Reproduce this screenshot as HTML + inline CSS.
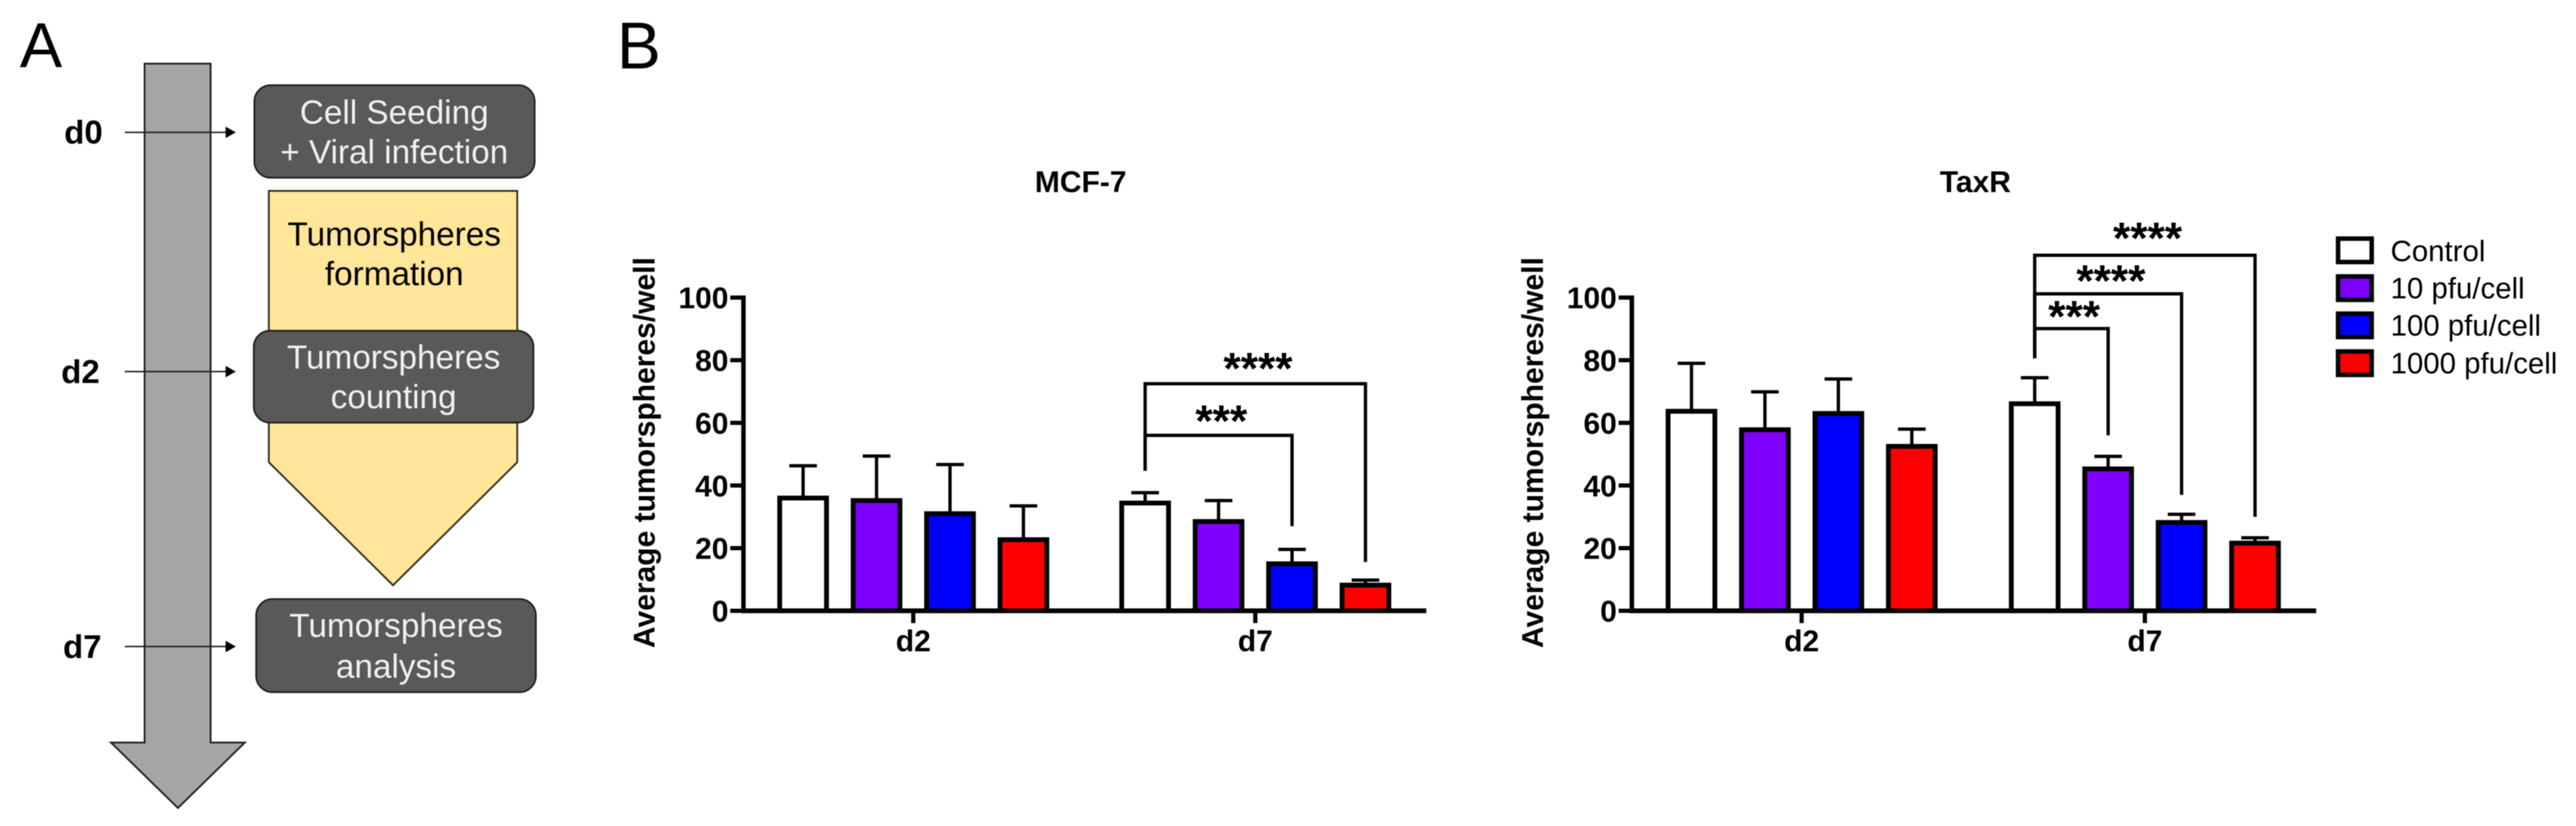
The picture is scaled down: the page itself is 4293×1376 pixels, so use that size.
<!DOCTYPE html>
<html lang="en">
<head>
<meta charset="utf-8">
<title>Tumorspheres experiment timeline and results</title>
<style>
html,body{margin:0;padding:0;background:#fff;width:4293px;height:1376px;overflow:hidden}
svg{display:block;font-family:"Liberation Sans",Arial,sans-serif;filter:blur(0.9px)}
.box{fill:#595959;stroke:#222;stroke-width:3}
.lt{fill:#f0f0f0;font-size:55.5px;text-anchor:middle}
.dk{fill:#000;font-size:55.5px;text-anchor:middle}
.day{fill:#000;font-size:55px;font-weight:bold}
.tl{stroke:#222;stroke-width:2.5}
.ah{fill:#000}
.leg{fill:#000;font-size:49px}
.sw{stroke:#000;stroke-width:7.5}
</style>
</head>
<body>
<svg id="figure" xmlns="http://www.w3.org/2000/svg" width="4293" height="1376" viewBox="0 0 4293 1376">
  <rect x="0" y="0" width="4293" height="1376" fill="#fff"/>
  <text x="33" y="112" font-size="106">A</text>
  <text x="1028" y="114" font-size="110">B</text>

  <polygon points="241,106 351,106 351,1237 408,1237 296.5,1346 185,1237 241,1237" fill="#a5a5a5" stroke="#222" stroke-width="3"/>

  <text class="day" x="107" y="239">d0</text>
  <text class="day" x="102" y="638">d2</text>
  <text class="day" x="105" y="1096">d7</text>

  <line class="tl" x1="208" y1="220.5" x2="380" y2="220.5"/>
  <polygon class="ah" points="376,211 393,220.5 376,230"/>
  <line class="tl" x1="208" y1="619" x2="380" y2="619"/>
  <polygon class="ah" points="376,609.5 393,619 376,628.5"/>
  <line class="tl" x1="208" y1="1077" x2="380" y2="1077"/>
  <polygon class="ah" points="376,1067.5 393,1077 376,1086.5"/>

  <polygon points="448,318 862,318 862,770 655,975 448,770" fill="#ffe699" stroke="#332f1c" stroke-width="3"/>
  <text class="dk" x="657" y="409">Tumorspheres</text>
  <text class="dk" x="657" y="475">formation</text>

  <rect class="box" x="424" y="142" width="467" height="154" rx="27" ry="27"/>
  <text class="lt" x="657" y="206">Cell Seeding</text>
  <text class="lt" x="657" y="272">+ Viral infection</text>

  <rect class="box" x="423" y="551" width="466" height="153" rx="27" ry="27"/>
  <text class="lt" x="656" y="614">Tumorspheres</text>
  <text class="lt" x="656" y="680">counting</text>

  <rect class="box" x="427" y="998" width="466" height="155" rx="27" ry="27"/>
  <text class="lt" x="660" y="1061">Tumorspheres</text>
  <text class="lt" x="660" y="1129">analysis</text>

  <g id="chart-mcf7"></g>
  <g id="chart-taxr"></g>

  <g>
    <rect class="sw" x="3896.5" y="397.5" width="56" height="39" fill="#fff"/>
    <text class="leg" x="3984" y="435">Control</text>
    <rect class="sw" x="3896.5" y="460.5" width="56" height="39" fill="#7f00ff"/>
    <text class="leg" x="3984" y="497">10 pfu/cell</text>
    <rect class="sw" x="3896.5" y="522.5" width="56" height="39" fill="#0000ff"/>
    <text class="leg" x="3984" y="559">100 pfu/cell</text>
    <rect class="sw" x="3896.5" y="585.5" width="56" height="39" fill="#ff0000"/>
    <text class="leg" x="3984" y="622">1000 pfu/cell</text>
  </g>
</svg>
<script>
// ---- chart data ----
const groupLabels = ['d2', 'd7'];
const seriesNames = ['control', '10-pfu', '100-pfu', '1000-pfu'];
const yTickValues = [0, 20, 40, 60, 80, 100];
const yAxisTitle = 'Average tumorspheres/well';

const mcf7Title = 'MCF-7';
const mcf7Means = [36, 35.2, 31, 22.7, 34.4, 28.5, 15, 8.2];
const mcf7ErrorTops = [46.3, 49.4, 46.7, 33.5, 37.7, 35.2, 19.6, 9.8];
const mcf7BracketLevels = [72.5, 56];
const mcf7BracketTargetBars = [7, 6];
const mcf7BracketTargetEnds = [15.6, 27];
const mcf7BracketStart = 44.7;
const mcf7StarLabels = ['****', '***'];
const mcf7StarHeights = [79.2, 62.5];

const taxrTitle = 'TaxR';
const taxrMeans = [63.7, 57.8, 63, 52.5, 66.1, 45.3, 28.2, 21.6];
const taxrErrorTops = [79, 69.9, 74, 58, 74.4, 49.3, 30.8, 23.3];
const taxrBracketLevels = [113.5, 101.2, 90.1];
const taxrBracketTargetBars = [7, 6, 5];
const taxrBracketTargetEnds = [30, 37, 56];
const taxrBracketStart = 80.6;
const taxrStarLabels = ['****', '****', '***'];
const taxrStarHeights = [120.8, 107.2, 95.8];

const seriesColors = ['#ffffff', '#7f00ff', '#0000ff', '#ff0000'];

// ---- drawing ----
const SVGNS = 'http://www.w3.org/2000/svg';
function mk(parent, tag, attrs, txt) {
  const el = document.createElementNS(SVGNS, tag);
  for (const k in attrs) el.setAttribute(k, attrs[k]);
  if (txt !== undefined) el.textContent = txt;
  parent.appendChild(el);
  return el;
}
function drawChart(root, o) {
  const Y0 = 1017.5, Y100 = 495.7;
  const yScale = v => Y0 - v * (Y0 - Y100) / 100;
  const groupX = i => o.axisX + 283 + i * o.groupGap;
  const barX = idx => {
    const g = Math.floor(idx / seriesNames.length);
    const s = idx % seriesNames.length;
    return groupX(g) + (s - 1.5) * 122.4;
  };

  let el = mk(root, 'text', {x: o.titleX, y: 320, 'font-size': 50, 'font-weight': 'bold', 'text-anchor': 'middle'}, o.title);
  
  

  el = mk(root, 'text', {transform: 'translate(' + (o.axisX - 148) + ',754) rotate(-90)', 'font-size': 50, 'font-weight': 'bold', 'text-anchor': 'middle'}, yAxisTitle);
  
  

  // error bars behind bars
  o.means.forEach((m, i) => {
    const cx = barX(i), top = yScale(o.tops[i]);
    el = mk(root, 'line', {x1: cx, x2: cx, y1: yScale(m), y2: top, stroke: '#000', 'stroke-width': 5.5});
    
    
    el = mk(root, 'line', {x1: cx - 23, x2: cx + 23, y1: top, y2: top, stroke: '#000', 'stroke-width': 5.5});
    
    
  });

  // bars
  o.means.forEach((m, i) => {
    const y = yScale(m);
    el = mk(root, 'rect', {x: barX(i) - 39, y: y, width: 78, height: Y0 - y, fill: seriesColors[i % seriesColors.length], stroke: '#000', 'stroke-width': 8});
    
    
  });

  // axes
  el = mk(root, 'line', {x1: o.axisX, x2: o.axisX, y1: Y100 - 3.5, y2: Y0 + 3.5, stroke: '#000', 'stroke-width': 7.5});
  
  
  el = mk(root, 'line', {x1: o.axisX - 3.5, x2: o.axisEnd, y1: Y0, y2: Y0, stroke: '#000', 'stroke-width': 8});
  
  

  yTickValues.forEach(v => {
    const y = yScale(v);
    el = mk(root, 'line', {x1: o.axisX - 22, x2: o.axisX, y1: y, y2: y, stroke: '#000', 'stroke-width': 7});
    
    
    el = mk(root, 'text', {x: o.axisX - 25, y: y + 18, 'font-size': 50, 'font-weight': 'bold', 'text-anchor': 'end'}, String(v));
    
    
  });

  groupLabels.forEach((g, i) => {
    const x = groupX(i);
    el = mk(root, 'line', {x1: x, x2: x, y1: Y0, y2: 1038, stroke: '#000', 'stroke-width': 7});
    
    
    el = mk(root, 'text', {x: x, y: 1085, 'font-size': 50, 'font-weight': 'bold', 'text-anchor': 'middle'}, g);
    
    
  });

  // significance brackets
  const left = barX(4);
  o.levels.forEach((lv, i) => {
    const right = barX(o.targets[i]), y = yScale(lv);
    const d = 'M' + left + ' ' + yScale(o.start) + 'V' + y + 'H' + right + 'V' + yScale(o.ends[i]);
    el = mk(root, 'path', {d: d, fill: 'none', stroke: '#000', 'stroke-width': 5.5});
    
    
    el = mk(root, 'text', {x: (left + right) / 2 + 4.5, y: yScale(o.starH[i]) + 35, 'font-size': 74, 'font-weight': 'bold', 'text-anchor': 'middle'}, o.stars[i]);
    
    
  });
}

drawChart(document.getElementById('chart-mcf7'), {
  title: mcf7Title, titleX: 1801, axisX: 1239, axisEnd: 2377, groupGap: 570,
  means: mcf7Means, tops: mcf7ErrorTops, levels: mcf7BracketLevels,
  targets: mcf7BracketTargetBars, ends: mcf7BracketTargetEnds, start: mcf7BracketStart,
  stars: mcf7StarLabels, starH: mcf7StarHeights
});
drawChart(document.getElementById('chart-taxr'), {
  title: taxrTitle, titleX: 3292, axisX: 2719.5, axisEnd: 3860, groupGap: 572,
  means: taxrMeans, tops: taxrErrorTops, levels: taxrBracketLevels,
  targets: taxrBracketTargetBars, ends: taxrBracketTargetEnds, start: taxrBracketStart,
  stars: taxrStarLabels, starH: taxrStarHeights
});
</script>
</body>
</html>
